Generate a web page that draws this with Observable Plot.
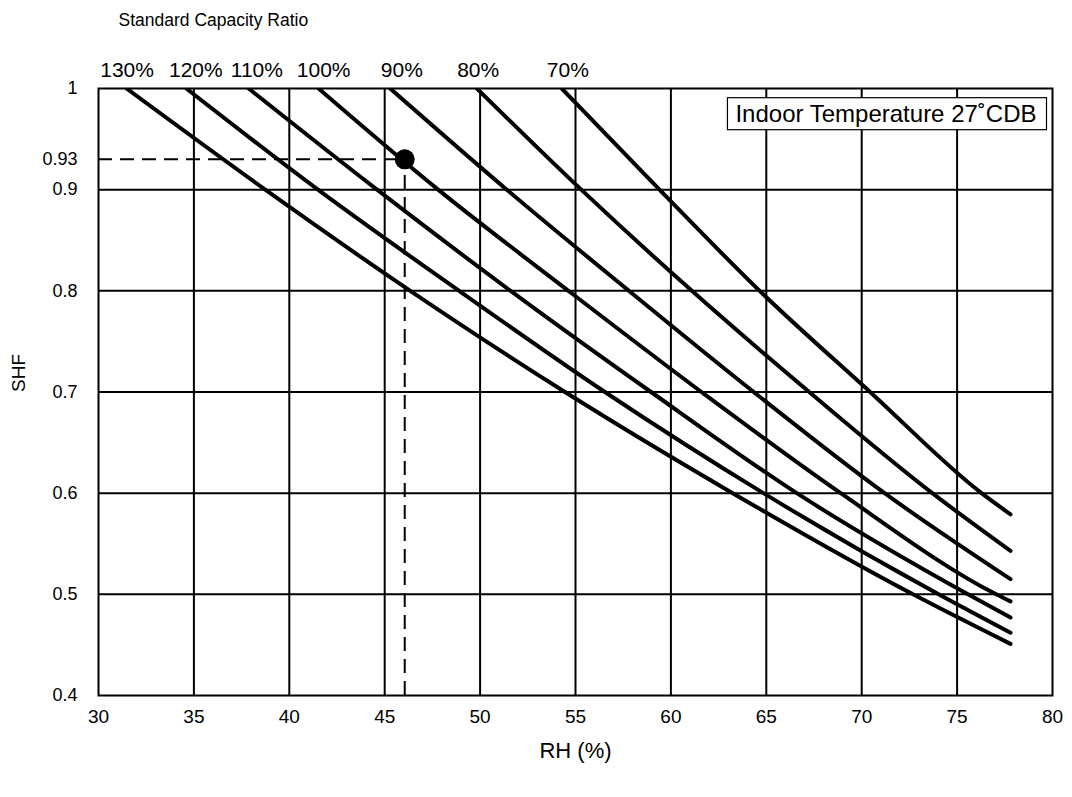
<!DOCTYPE html>
<html>
<head>
<meta charset="utf-8">
<script src="https://cdn.jsdelivr.net/npm/d3@7"></script>
<script src="https://cdn.jsdelivr.net/npm/@observablehq/plot@0.6"></script>
<style>
  html, body { margin: 0; padding: 0; background: #fff; }
</style>
</head>
<body>
<div id="chart"></div>
<script>
// ---- Data ----
const ratioLabels = ["130%", "120%", "110%", "100%", "90%", "80%", "70%"];
const ratioLabelRH = [31.5, 35.1, 38.3, 41.8, 45.9, 49.9, 54.6];

// RH (%) at which each capacity-ratio curve crosses the listed SHF values
const rh130 = [31.47, 38.74, 46.34, 54.45, 63.24, 72.69, 77.8];
const shf130 = [1.0, 0.9, 0.8, 0.7, 0.6, 0.5, 0.451];
const rh120 = [34.6, 41.5, 48.9, 56.54, 64.85, 74.03, 77.8];
const shf120 = [1.0, 0.9, 0.8, 0.7, 0.6, 0.5, 0.462];
const rh110 = [37.87, 44.6, 51.6, 58.96, 66.6, 75.57, 77.8];
const shf110 = [1.0, 0.9, 0.8, 0.7, 0.6, 0.5, 0.477];
const rh100 = [41.53, 47.8, 54.63, 61.6, 68.9, 77.05, 77.8];
const shf100 = [1.0, 0.9, 0.8, 0.7, 0.6, 0.5, 0.493];
const rh90 = [45.29, 51.4, 57.8, 64.34, 71.2, 77.8];
const shf90 = [1.0, 0.9, 0.8, 0.7, 0.6, 0.515];
const rh80 = [49.83, 55.3, 61.1, 67.25, 73.7, 77.8];
const shf80 = [1.0, 0.9, 0.8, 0.7, 0.6, 0.543];
const rh70 = [54.28, 59.4, 64.65, 70.44, 76.28, 77.8];
const shf70 = [1.0, 0.9, 0.8, 0.7, 0.6, 0.579];

const markerRH = 46.05;
const markerSHF = 0.93;

const xDomain = [30, 80];
const yDomain = [0.4, 1];
const xTicks = [30, 35, 40, 45, 50, 55, 60, 65, 70, 75, 80];
const yTicks = [0.4, 0.5, 0.6, 0.7, 0.8, 0.9, 0.93, 1];
const xGrid = [35, 40, 45, 50, 55, 60, 65, 70, 75];
const yGrid = [0.5, 0.6, 0.7, 0.8, 0.9];

const titleText = "Standard Capacity Ratio";
const xLabel = "RH (%)";
const yLabel = "SHF";
const legendText = "Indoor Temperature 27˚CDB";

// ---- Build table ----
const curves = [
  [ratioLabels[0], rh130, shf130],
  [ratioLabels[1], rh120, shf120],
  [ratioLabels[2], rh110, shf110],
  [ratioLabels[3], rh100, shf100],
  [ratioLabels[4], rh90, shf90],
  [ratioLabels[5], rh80, shf80],
  [ratioLabels[6], rh70, shf70]
];
const rows = curves.flatMap(([ratio, rh, shf]) => rh.map((x, i) => ({ratio, rh: x, shf: shf[i]})));
const labelRows = ratioLabels.map((label, i) => ({label, rh: ratioLabelRH[i]}));

const font = "'Liberation Sans', Arial, Helvetica, sans-serif";

const chart = Plot.plot({
  width: 1072,
  height: 797,
  marginLeft: 98,
  marginRight: 20,
  marginTop: 88,
  marginBottom: 102,
  style: {fontFamily: font, fontSize: "17px", color: "black", background: "white", overflow: "visible"},
  x: {domain: xDomain},
  y: {domain: yDomain},
  marks: [
    Plot.gridX(xGrid, {stroke: "black", strokeOpacity: 1, strokeWidth: 2}),
    Plot.gridY(yGrid, {stroke: "black", strokeOpacity: 1, strokeWidth: 2}),
    Plot.ruleY([markerSHF], {x1: xDomain[0], x2: markerRH, stroke: "black", strokeWidth: 2, strokeDasharray: "14,8"}),
    Plot.ruleX([markerRH], {y1: yDomain[0], y2: markerSHF, stroke: "black", strokeWidth: 2, strokeDasharray: "14,8"}),
    Plot.line(rows, {x: "rh", y: "shf", z: "ratio", stroke: "black", strokeWidth: 4, curve: "monotone-x", clip: true, strokeLinecap: "round", strokeLinejoin: "round"}),
    Plot.frame({stroke: "black", strokeWidth: 2}),
    Plot.dot([{rh: markerRH, shf: markerSHF}], {x: "rh", y: "shf", r: 10, fill: "black", stroke: "none"}),
    Plot.axisX(xTicks, {tickSize: 0, tickPadding: 14, label: null, fontSize: 19}),
    Plot.axisY(yTicks, {tickSize: 0, tickPadding: 21, label: null, fontSize: 18, tickFormat: d => String(d)}),
    Plot.text(labelRows, {x: "rh", text: "label", frameAnchor: "top", dy: -18, fontSize: 21, lineAnchor: "middle"}),
    Plot.text([titleText], {frameAnchor: "top-left", dx: 20, dy: -68, textAnchor: "start", lineAnchor: "middle", fontSize: 17.5}),
    Plot.text([xLabel], {frameAnchor: "bottom", dy: 55, lineAnchor: "middle", fontSize: 22}),
    Plot.text([yLabel], {frameAnchor: "left", dx: -80, rotate: -90, lineAnchor: "middle", fontSize: 19}),
    Plot.text([legendText], {frameAnchor: "top-right", dx: -16, dy: 26, textAnchor: "end", lineAnchor: "middle", fontSize: 24})
  ]
});

document.getElementById("chart").appendChild(chart);

// Box around the legend text
try {
  const ns = "http://www.w3.org/2000/svg";
  const t = Array.from(chart.querySelectorAll("text")).find(el => el.textContent === legendText);
  if (t) {
    const bb = t.getBBox();
    const m = t.getCTM();
    const svgM = chart.getCTM();
    const padX = 8;
    const x0 = bb.x - padX, y0 = bb.y + bb.height / 2 - 16;
    const rect = document.createElementNS(ns, "rect");
    rect.setAttribute("x", x0);
    rect.setAttribute("y", y0);
    rect.setAttribute("width", bb.width + 2 * padX + 2);
    rect.setAttribute("height", 32);
    rect.setAttribute("fill", "white");
    rect.setAttribute("stroke", "black");
    rect.setAttribute("stroke-width", "1.2");
    const g = document.createElementNS(ns, "g");
    if (m && svgM) {
      const rel = svgM.inverse().multiply(m);
      g.setAttribute("transform", `matrix(${rel.a},${rel.b},${rel.c},${rel.d},${rel.e},${rel.f})`);
    }
    g.appendChild(rect);
    const textG = t.closest("g");
    chart.insertBefore(g, textG);
  }
} catch (e) {
  console.error(e);
}
</script>
</body>
</html>
